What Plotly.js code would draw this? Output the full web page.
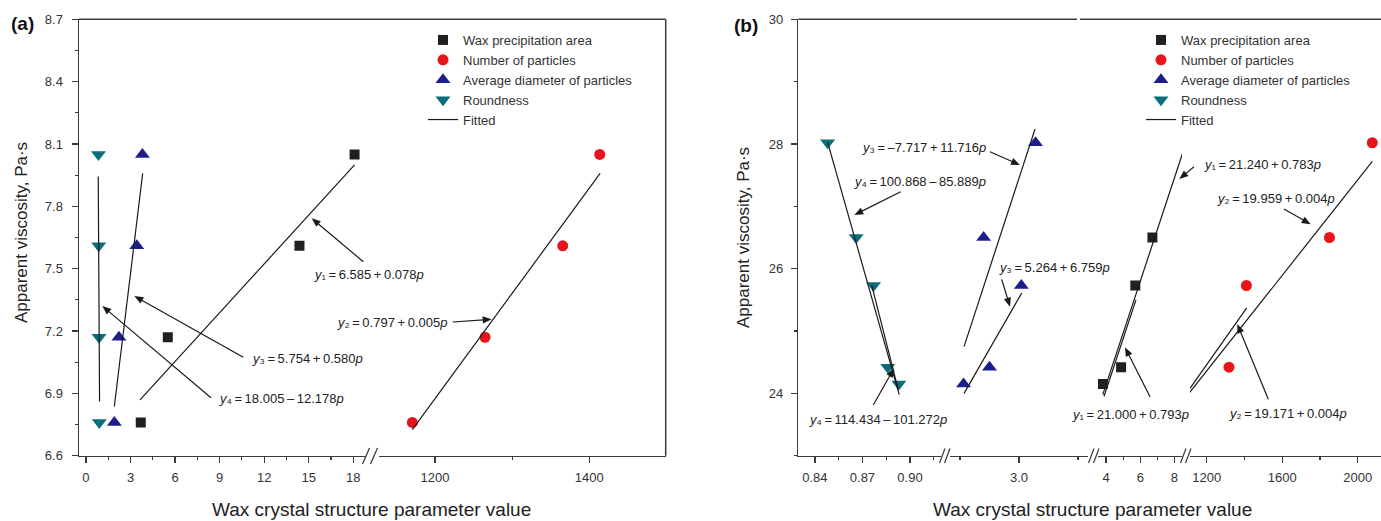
<!DOCTYPE html>
<html><head><meta charset="utf-8">
<script src="https://cdn.plot.ly/plotly-3.0.1.min.js"></script>
<style>html,body{margin:0;padding:0;background:#fff}#chart{width:1381px;height:521px}</style>
</head><body><div id="chart"></div>
<script>
// ===== Panel (a) data =====
const a_v = [6.76, 7.17, 7.61, 8.05];
const a_area_p = [3.69, 5.51, 14.38, 18.09];
const a_num_p = [1170.6, 1264.8, 1365.5, 1413.5];
const a_diam_p = [1.91, 2.22, 3.42, 3.80];
const a_round_p = [0.90, 0.88, 0.86, 0.84];
// fitted lines (a): endpoints
const a_fit1_p = [3.64, 18.09], a_fit1_v = [6.869, 7.999];
const a_fit2_p = [1170.6, 1414.0], a_fit2_v = [6.725, 7.959];
const a_fit3_p = [1.91, 3.82], a_fit3_v = [6.837, 7.959];
const a_fit4_p = [0.915, 0.826], a_fit4_v = [6.861, 7.943];

// ===== Panel (b) data =====
const b_round_p = [0.848, 0.866, 0.877, 0.886, 0.893];
const b_round_v = [28.02, 26.50, 25.73, 24.42, 24.15];
const b_diam_p = [2.53, 2.70, 2.75, 3.02, 3.14];
const b_diam_v = [24.15, 26.50, 24.42, 25.73, 28.02];
const b_area_p = [3.81, 4.88, 5.71, 6.71];
const b_area_v = [24.15, 24.42, 25.73, 26.50];
const b_num_p = [1318, 1410, 1850, 2077];
const b_num_v = [24.42, 25.73, 26.50, 28.02];
// fitted lines (b)
const b_fitR1_p = [0.848, 0.8932], b_fitR1_v = [28.03, 23.98];
const b_fitR2_p = [0.8758, 0.8926], b_fitR2_v = [25.74, 24.06];
const b_fitD1_p = [2.534, 3.136], b_fitD1_v = [24.75, 28.24];
const b_fitD2_p = [2.534, 3.023], b_fitD2_v = [24.00, 25.61];
const b_fitA1_p = [3.81, 8.52], b_fitA1_v = [23.98, 27.89];
const b_fitA2_p = [3.88, 5.75], b_fitA2_v = [23.95, 25.50];
const b_fitN1_p = [1106, 2077], b_fitN1_v = [24.00, 27.72];
const b_fitN2_p = [1111.5, 1412], b_fitN2_v = [24.08, 25.37];

const legendNames = ['Wax precipitation area','Number of particles','Average diameter of particles','Roundness','Fitted'];

const C_BLACK='#231f20', C_RED='#e8141c', C_BLUE='#1c1f8a', C_TEAL='#0b6e7c', C_LINE='#1a1a1a';
const FONT='Liberation Sans, Arial, sans-serif';

const mk = (sym,color,size)=>({symbol:sym,color:color,size:size,line:{width:0}});
function pts(x,y,xa,ya,name,marker,leg,show){return {type:'scatter',mode:'markers',x:x,y:y,xaxis:xa,yaxis:ya,name:name,marker:marker,legend:leg,showlegend:show,hoverinfo:'skip'};}
function fit(x,y,xa,ya,leg,show){return {type:'scatter',mode:'lines',x:x,y:y,xaxis:xa,yaxis:ya,name:legendNames[4],line:{color:C_LINE,width:1.2},legend:leg,showlegend:show,hoverinfo:'skip'};}

const traces = [
  pts(a_area_p,a_v,'x','y',legendNames[0],mk('square',C_BLACK,10),'legend',true),
  pts(a_num_p,a_v,'x2','y',legendNames[1],mk('circle',C_RED,11),'legend',true),
  pts(a_diam_p,a_v,'x','y',legendNames[2],mk('triangle-up',C_BLUE,13),'legend',true),
  pts(a_round_p,a_v,'x','y',legendNames[3],mk('triangle-down',C_TEAL,13),'legend',true),
  fit(a_fit1_p,a_fit1_v,'x','y','legend',true),
  fit(a_fit2_p,a_fit2_v,'x2','y','legend',false),
  fit(a_fit3_p,a_fit3_v,'x','y','legend',false),
  fit(a_fit4_p,a_fit4_v,'x','y','legend',false),

  pts(b_area_p,b_area_v,'x5','y2',legendNames[0],mk('square',C_BLACK,10),'legend2',true),
  pts(b_num_p,b_num_v,'x6','y2',legendNames[1],mk('circle',C_RED,11),'legend2',true),
  pts(b_diam_p,b_diam_v,'x4','y2',legendNames[2],mk('triangle-up',C_BLUE,13),'legend2',true),
  pts(b_round_p,b_round_v,'x3','y2',legendNames[3],mk('triangle-down',C_TEAL,13),'legend2',true),
  fit(b_fitR1_p,b_fitR1_v,'x3','y2','legend2',true),
  fit(b_fitR2_p,b_fitR2_v,'x3','y2','legend2',false),
  fit(b_fitD1_p,b_fitD1_v,'x4','y2','legend2',false),
  fit(b_fitD2_p,b_fitD2_v,'x4','y2','legend2',false),
  fit(b_fitA1_p,b_fitA1_v,'x5','y2','legend2',false),
  fit(b_fitA2_p,b_fitA2_v,'x5','y2','legend2',false),
  fit(b_fitN1_p,b_fitN1_v,'x6','y2','legend2',false),
  fit(b_fitN2_p,b_fitN2_v,'x6','y2','legend2',false)
];

const W=1381,H=521;
const fx=p=>p/W, fy=p=>1-p/H;
const TOP=19.3, BOT=455.7;
const AXC='#3a3a3a';
function minor(d){return {ticks:'outside',ticklen:3,tickwidth:1.2,tickcolor:AXC,showgrid:false,dtick:d};}
function ax(extra){
  return Object.assign({showline:true,linecolor:AXC,linewidth:1.5,ticks:'outside',ticklen:6,tickwidth:1.2,tickcolor:AXC,
    showgrid:false,zeroline:false,fixedrange:true,ticklabelstandoff:3,
    tickfont:{family:FONT,size:13,color:'#333'}},extra);
}
const layout = {
  width:W,height:H,margin:{l:0,r:0,t:0,b:0},paper_bgcolor:'#fff',plot_bgcolor:'rgba(0,0,0,0)',
  font:{family:FONT,size:13,color:'#222'},
  xaxis: ax({domain:[fx(79),fx(366)],range:[-0.47,18.86],tick0:0,dtick:3,minor:minor(1.5),anchor:'y'}),
  xaxis2:ax({domain:[fx(379),fx(665.7)],range:[1127.4,1499],tick0:0,dtick:200,minor:minor(100),anchor:'y'}),
  yaxis: ax({domain:[fy(BOT),fy(TOP)],range:[6.6,8.7],tick0:6.6,dtick:0.3,tickformat:'.1f',ticklabelstandoff:6,minor:minor(0.15),anchor:'x'}),
  xaxis3:ax({domain:[fx(798.3),fx(941)],range:[0.8295,0.9196],tick0:0,dtick:0.03,tickformat:'.2f',minor:minor(0.015),anchor:'y2'}),
  xaxis4:ax({domain:[fx(950),fx(1088)],range:[2.415,3.585],tick0:0,dtick:1,tickformat:'.1f',minor:minor(0.5),anchor:'y2'}),
  xaxis5:ax({domain:[fx(1098),fx(1182)],range:[3.53,8.44],tick0:0,dtick:2,minor:minor(1),anchor:'y2'}),
  xaxis6:ax({domain:[fx(1190),fx(1381)],range:[1111.5,2123],tick0:0,dtick:400,minor:minor(200),anchor:'y2'}),
  yaxis2:ax({domain:[fy(BOT),fy(TOP)],range:[23,30],tick0:0,dtick:2,ticklabelstandoff:5,minor:minor(1),anchor:'x3'}),
  legend:{x:fx(423),y:fy(25),xanchor:'left',yanchor:'top',bgcolor:'rgba(0,0,0,0)',font:{family:FONT,size:13,color:'#333'},tracegroupgap:0,itemwidth:30},
  legend2:{x:fx(1141),y:fy(25),xanchor:'left',yanchor:'top',bgcolor:'rgba(0,0,0,0)',font:{family:FONT,size:13,color:'#333'},tracegroupgap:0,itemwidth:30},
  shapes:[],annotations:[]
};

// frame lines
function pline(x0,y0,x1,y1,w,c){layout.shapes.push({type:'line',xref:'paper',yref:'paper',x0:fx(x0),y0:fy(y0),x1:fx(x1),y1:fy(y1),line:{color:c||AXC,width:w||1.5}});}
pline(79,TOP,665.7,TOP); pline(665.7,TOP,665.7,BOT);
pline(798.3,TOP,1077,TOP); pline(1080,TOP,1381,TOP);
// axis break marks
function brk(x0){ pline(x0,464,x0+7,448,1.2); pline(x0+8,464,x0+15,448,1.2); }
brk(362.5);
function brk2(x0){ pline(x0,463,x0+5.5,448.5,1.2); pline(x0+5,463,x0+10.5,448.5,1.2); }
brk2(939.5); brk2(1088.5); brk2(1180.5);

// equations: [text, left-x, center-y]
const S='\u2009';
const SUB=['','\u2081','\u2082','\u2083','\u2084'];
const eq=(i,a,op,b)=>'<i>y</i>'+SUB[i]+S+'='+S+a+S+op+S+b+'<i>p</i>';
const eqs = [
  [eq(1,'6.585','+','0.078'),311.7,274],
  [eq(2,'0.797','+','0.005'),335,322],
  [eq(3,'5.754','+','0.580'),250,358],
  [eq(4,'18.005','–','12.178'),216.7,398],
  [eq(3,'–7.717','+','11.716'),860,147],
  [eq(4,'100.868','–','85.889'),851.7,182],
  [eq(3,'5.264','+','6.759'),996.7,267],
  [eq(4,'114.434','–','101.272'),806.7,419],
  [eq(1,'21.240','+','0.783'),1201.7,164],
  [eq(2,'19.959','+','0.004'),1215,199],
  [eq(1,'21.000','+','0.793'),1070,414],
  [eq(2,'19.171','+','0.004'),1226.7,413]
];
eqs.forEach(e=>layout.annotations.push({xref:'paper',yref:'paper',x:fx(e[1]),y:fy(e[2]),xanchor:'left',yanchor:'middle',text:e[0],showarrow:false,font:{family:FONT,size:13,color:'#222'}}));
// arrows drawn as line + filled head: tail -> head
const arrows = [
  [363.3,261.7,311.7,218.3],[452.7,322,491.7,319.3],[243.3,357.3,134.3,296],[211,397.7,102.3,306],
  [990,151.7,1020,165],[900.7,191.7,854.3,215],[1001.7,279.3,1010,306.7],[873.3,405,894,368.3],
  [1194,166.7,1179.3,179],[1284,209,1310.7,224.3],[1150,396.7,1125,347.3],[1268.3,399.3,1237.3,324]
];
arrows.forEach(a=>{
  const [tx,ty,hx,hy]=a; const L=Math.hypot(hx-tx,hy-ty); const ux=(hx-tx)/L, uy=(hy-ty)/L;
  const hl=9, hw=3.6; const bx=hx-ux*hl, by=hy-uy*hl;
  pline(tx,ty,hx-ux*(hl-1),hy-uy*(hl-1),1.2,'#1a1a1a');
  const p1=[bx-uy*hw,by+ux*hw], p2=[bx+uy*hw,by-ux*hw];
  layout.shapes.push({type:'path',xref:'paper',yref:'paper',
    path:'M'+fx(hx)+','+fy(hy)+' L'+fx(p1[0])+','+fy(p1[1])+' L'+fx(p2[0])+','+fy(p2[1])+' Z',
    fillcolor:'#1a1a1a',line:{width:0}});
});

// axis titles & panel labels
const xTitle='Wax crystal structure parameter value', yTitle='Apparent viscosity, Pa·s';
layout.annotations.push({xref:'paper',yref:'paper',x:fx(371),y:fy(509),text:xTitle,showarrow:false,xanchor:'center',yanchor:'middle',font:{family:FONT,size:19,color:'#222'}});
layout.annotations.push({xref:'paper',yref:'paper',x:fx(1092),y:fy(509),text:xTitle,showarrow:false,xanchor:'center',yanchor:'middle',font:{family:FONT,size:19,color:'#222'}});
layout.annotations.push({xref:'paper',yref:'paper',x:fx(21),y:fy(233),text:yTitle,textangle:-90,showarrow:false,xanchor:'center',yanchor:'middle',font:{family:FONT,size:17,color:'#222'}});
layout.annotations.push({xref:'paper',yref:'paper',x:fx(743),y:fy(238),text:yTitle,textangle:-90,showarrow:false,xanchor:'center',yanchor:'middle',font:{family:FONT,size:17,color:'#222'}});
layout.annotations.push({xref:'paper',yref:'paper',x:fx(22),y:fy(24),text:'<b>(a)</b>',showarrow:false,xanchor:'center',yanchor:'middle',font:{family:FONT,size:19,color:'#111'}});
layout.annotations.push({xref:'paper',yref:'paper',x:fx(746),y:fy(25),text:'<b>(b)</b>',showarrow:false,xanchor:'center',yanchor:'middle',font:{family:FONT,size:19,color:'#111'}});

Plotly.newPlot('chart',traces,layout,{staticPlot:true,displayModeBar:false});
</script></body></html>
